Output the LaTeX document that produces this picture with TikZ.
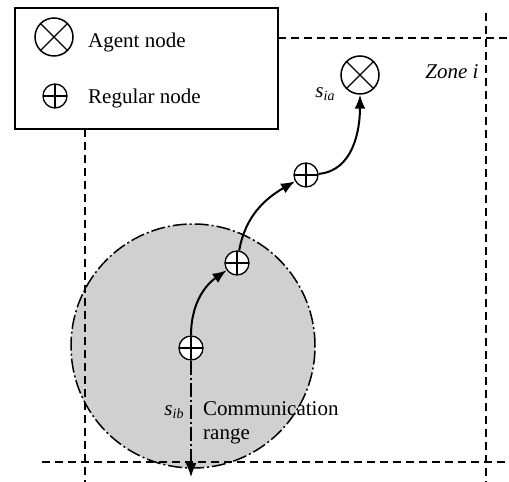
\documentclass[tikz,border=0pt]{standalone}
\usepackage{fontspec}
\setmainfont{Liberation Serif}
\usetikzlibrary{arrows.meta}
\definecolor{rangegray}{RGB}{208,208,208}
\begin{document}
\begin{tikzpicture}[x=1pt,y=1pt,
 regnode/.style={circle,draw,line width=1.3pt,fill=white,minimum size=24pt,inner sep=0pt,
   path picture={\draw[line width=1.1pt] (path picture bounding box.north) -- (path picture bounding box.south) (path picture bounding box.west) -- (path picture bounding box.east);}},
 agentnode/.style={circle,draw,line width=1.5pt,fill=white,minimum size=38pt,inner sep=0pt,
   path picture={\draw[line width=1.3pt] (path picture bounding box.north west) -- (path picture bounding box.south east) (path picture bounding box.north east) -- (path picture bounding box.south west);}},
 zone/.style={line width=1.5pt,dash pattern=on 8pt off 5pt},
 rangeline/.style={line width=1.5pt,dash pattern=on 14pt off 3pt on 2pt off 3pt},
 tip/.style={-{Latex[length=14pt,width=11pt]}},
 flow/.style={line width=2pt,tip},
 lbl/.style={font=\fontsize{21}{24}\selectfont,inner sep=0pt},
]
\useasboundingbox (0,0) rectangle (509,482);
% communication range
\node[circle,fill=rangegray,rangeline,draw,minimum size=244pt,inner sep=0pt] (rangecircle) at (193,136) {};
% zone lines
\draw[zone] (278,444) -- (509,444);
\draw[zone] (486,469) -- (486,0);
\draw[zone] (85,353) -- (85,0);
\draw[zone] (42,20) -- (509,20);
% legend
\draw[line width=1.4pt] (15,474) rectangle (278,353);
\node[agentnode] (legagent) at (54,445) {};
\node[lbl,anchor=west] (legagenttxt) at (88,440) {Agent node};
\node[regnode] (legreg) at (55,386) {};
\node[lbl,anchor=west] (legregtxt) at (88,384) {Regular node};
% nodes
\node[regnode] (n1) at (191,134) {};
\node[regnode] (n2) at (237,219) {};
\node[regnode] (n3) at (306,307) {};
\node[agentnode] (agent) at (360,407) {};
\coordinate (rangeend) at (191,5);
% connectors
\draw[rangeline,tip] (n1) -- (rangeend);
\draw[flow] (n1) to[out=90,in=215] (n2);
\draw[flow] (n2) to[out=80,in=210] (n3);
\draw[flow] (n3) to[out=5,in=270] (agent);
% labels
\node[lbl] (sia) at (325,388) {\itshape s\raisebox{-0.35ex}{\fontsize{14}{14}\selectfont ia}};
\node[lbl] (sib) at (174,70) {\itshape s\raisebox{-0.35ex}{\fontsize{14}{14}\selectfont ib}};
\node[lbl,anchor=west,align=left] (commtxt) at (203,59) {Communication\\range};
\node[lbl] (zonetxt) at (452,410) {\itshape Zone i};
\end{tikzpicture}
\end{document}
